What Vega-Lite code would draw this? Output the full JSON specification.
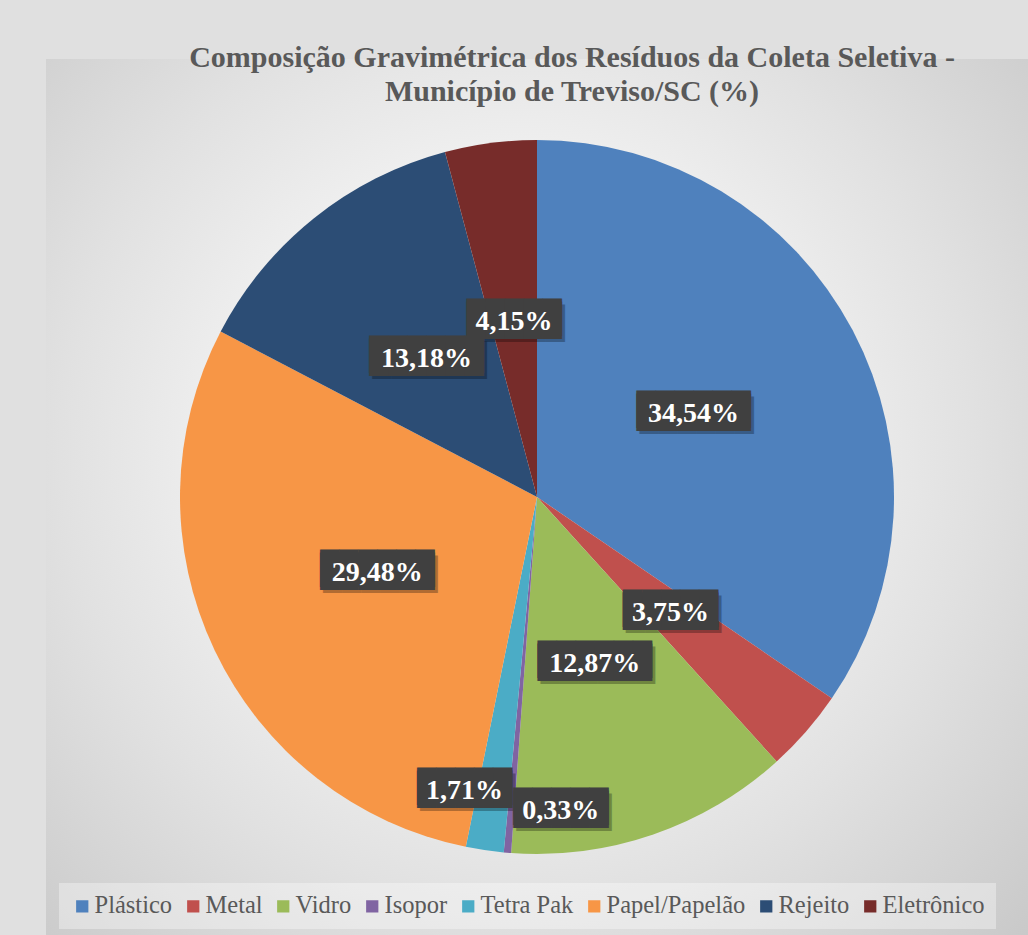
{
  "$schema": "https://vega.github.io/schema/vega-lite/v6.json",
  "autosize": {"type": "none"},
  "width": 982,
  "height": 876,
  "padding": {"left": 46, "top": 59, "right": 0, "bottom": 0},
  "background": "#e0e0e0",
  "title": {
    "text": ["Composição Gravimétrica  dos Resíduos  da Coleta Seletiva -", "Município de Treviso/SC (%)"],
    "anchor": "middle",
    "frame": "group",
    "dx": 35,
    "offset": -48,
    "font": "Liberation Serif",
    "fontSize": 30,
    "fontWeight": "bold",
    "color": "#595959",
    "lineHeight": 34
  },
  "data": {
    "values": [
      {"cat": "Plástico", "share": 0.3454, "ord": 1},
      {"cat": "Metal", "share": 0.0375, "ord": 2},
      {"cat": "Vidro", "share": 0.1287, "ord": 3},
      {"cat": "Isopor", "share": 0.0033, "ord": 4},
      {"cat": "Tetra Pak", "share": 0.0171, "ord": 5},
      {"cat": "Papel/Papelão", "share": 0.2948, "ord": 6},
      {"cat": "Rejeito", "share": 0.1318, "ord": 7},
      {"cat": "Eletrônico", "share": 0.0415, "ord": 8}
    ]
  },
  "layer": [
    {
      "data": {"values": [{"bg": 1}]},
      "mark": {
        "type": "rect",
        "color": {
          "gradient": "radial",
          "x1": 0.48, "y1": 0.45, "r1": 0,
          "x2": 0.48, "y2": 0.45, "r2": 0.75,
          "stops": [
            {"offset": 0, "color": "#f5f5f5"},
            {"offset": 0.4, "color": "#efefef"},
            {"offset": 0.62, "color": "#e1e1e1"},
            {"offset": 1, "color": "#c6c6c6"}
          ]
        }
      },
      "encoding": {}
    },
    {
      "mark": {"type": "arc", "outerRadius": 357},
      "encoding": {
        "theta": {"field": "share", "type": "quantitative", "stack": true},
        "order": {"field": "ord", "type": "quantitative"},
        "color": {
          "field": "cat",
          "type": "nominal",
          "scale": {
            "domain": ["Plástico", "Metal", "Vidro", "Isopor", "Tetra Pak", "Papel/Papelão", "Rejeito", "Eletrônico"],
            "range": ["#4F81BD", "#C0504D", "#9BBB59", "#8064A2", "#4BACC6", "#F79646", "#2C4D75", "#772C2A"]
          },
          "legend": {
            "orient": "none",
            "legendX": 13,
            "legendY": 824,
            "direction": "horizontal",
            "columns": 8,
            "title": null,
            "padding": 11,
            "fillColor": "rgba(255,255,255,0.35)",
            "symbolType": "square",
            "symbolSize": 150,
            "symbolStrokeWidth": 0,
            "labelFont": "Liberation Serif",
            "labelFontSize": 24.5,
            "labelColor": "#595959",
            "labelOffset": 0,
            "columnPadding": 8,
            "labelLimit": 300
          }
        }
      }
    },
    {
      "mark": {
        "type": "text",
        "font": "DejaVu Sans Mono",
        "fontSize": 31.6,
        "align": "center",
        "baseline": "middle",
        "color": "#000000",
        "opacity": 0.28,
        "radius": {"expr": "datum.share < 0.02 ? 304 : 177"},
        "dx": {"expr": "(datum.cat === 'Isopor' ? 49 : (datum.cat === 'Tetra Pak' ? -28 : 0)) + 3"},
        "dy": {"expr": "(datum.cat === 'Isopor' ? 11 : (datum.cat === 'Tetra Pak' ? -7 : 0)) + 3"}
      },
      "encoding": {
        "theta": {"field": "share", "type": "quantitative", "stack": true},
        "order": {"field": "ord", "type": "quantitative"},
        "detail": {"field": "cat"},
        "text": {"condition": {"test": "datum.share >= 0.1", "value": "██████"}, "value": "█████"}
      }
    },
    {
      "mark": {
        "type": "text",
        "font": "DejaVu Sans Mono",
        "fontSize": 31.6,
        "align": "center",
        "baseline": "middle",
        "color": "#404040",
        "radius": {"expr": "datum.share < 0.02 ? 304 : 177"},
        "dx": {"expr": "datum.cat === 'Isopor' ? 49 : (datum.cat === 'Tetra Pak' ? -28 : 0)"},
        "dy": {"expr": "(datum.cat === 'Isopor' ? 11 : (datum.cat === 'Tetra Pak' ? -7 : 0)) - 3"}
      },
      "encoding": {
        "theta": {"field": "share", "type": "quantitative", "stack": true},
        "order": {"field": "ord", "type": "quantitative"},
        "detail": {"field": "cat"},
        "text": {"condition": {"test": "datum.share >= 0.1", "value": "██████"}, "value": "█████"}
      }
    },
    {
      "mark": {
        "type": "text",
        "font": "DejaVu Sans Mono",
        "fontSize": 31.6,
        "align": "center",
        "baseline": "middle",
        "color": "#404040",
        "radius": {"expr": "datum.share < 0.02 ? 304 : 177"},
        "dx": {"expr": "datum.cat === 'Isopor' ? 49 : (datum.cat === 'Tetra Pak' ? -28 : 0)"},
        "dy": {"expr": "datum.cat === 'Isopor' ? 11 : (datum.cat === 'Tetra Pak' ? -7 : 0)"}
      },
      "encoding": {
        "theta": {"field": "share", "type": "quantitative", "stack": true},
        "order": {"field": "ord", "type": "quantitative"},
        "detail": {"field": "cat"},
        "text": {"condition": {"test": "datum.share >= 0.1", "value": "██████"}, "value": "█████"}
      }
    },
    {
      "mark": {
        "type": "text",
        "font": "Liberation Serif",
        "fontSize": 28,
        "fontWeight": "bold",
        "align": "center",
        "baseline": "middle",
        "color": "#ffffff",
        "radius": {"expr": "datum.share < 0.02 ? 304 : 177"},
        "dx": {"expr": "datum.cat === 'Isopor' ? 49 : (datum.cat === 'Tetra Pak' ? -28 : 0)"},
        "dy": {"expr": "datum.cat === 'Isopor' ? 11 : (datum.cat === 'Tetra Pak' ? -7 : 0)"}
      },
      "encoding": {
        "theta": {"field": "share", "type": "quantitative", "stack": true},
        "order": {"field": "ord", "type": "quantitative"},
        "detail": {"field": "cat"},
        "text": {"field": "share", "type": "quantitative", "format": ".2%"}
      }
    }
  ],
  "config": {
    "locale": {"number": {"decimal": ",", "thousands": ".", "grouping": [3], "currency": ["R$", ""]}},
    "view": {"stroke": null}
  }
}
